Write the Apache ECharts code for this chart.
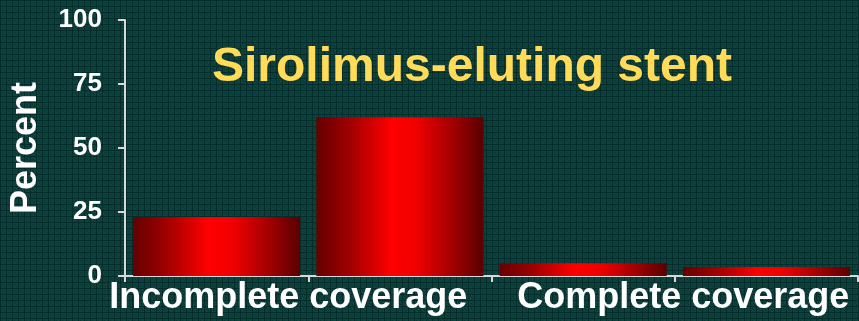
<!DOCTYPE html>
<html>
<head>
<meta charset="utf-8">
<script src="https://cdn.jsdelivr.net/npm/echarts@6/dist/echarts.min.js"></script>
<style>
html,body{margin:0;padding:0;background:#0a3834;}
#chart{width:859px;height:321px;}
</style>
</head>
<body>
<div id="chart"></div>
<script>
const categories = ['SES-1', 'SES-2', 'SES-3', 'SES-4'];
const groupLabels = ['Incomplete coverage', 'Complete coverage'];
const values = [23, 62, 5, 3.5];
const yTicks = [0, 25, 50, 75, 100];
const titleText = 'Sirolimus-eluting stent';
const yName = 'Percent';

// background texture
const pc = document.createElement('canvas');
pc.width = 6; pc.height = 6;
const g = pc.getContext('2d');
g.fillStyle = '#0b433f'; g.fillRect(0, 0, 6, 6);
g.fillStyle = '#042c2a';
g.fillRect(0, 0, 6, 1);
g.fillRect(0, 0, 1, 6);
g.fillStyle = '#073733';
g.fillRect(3, 3, 1, 1);
g.fillRect(2, 2, 1, 1);
g.fillRect(4, 4, 1, 1);

const chart = echarts.init(document.getElementById('chart'));
const barGrad = new echarts.graphic.LinearGradient(0, 0, 1, 0, [
  {offset: 0, color: '#650000'},
  {offset: 0.2, color: '#a00000'},
  {offset: 0.45, color: '#ff0000'},
  {offset: 0.6, color: '#f00000'},
  {offset: 0.85, color: '#950000'},
  {offset: 1, color: '#5a0000'}
]);
chart.setOption({
  backgroundColor: {image: pc, repeat: 'repeat'},
  animation: false,
  title: {
    text: titleText,
    left: 212, top: 44, padding: 0,
    textStyle: {color: '#ffdb58', fontSize: 48, fontWeight: 'bold', fontFamily: 'Liberation Sans, Arial, sans-serif', lineHeight: 48}
  },
  grid: {left: 125, right: 1, top: 20, bottom: 45, containLabel: false, outerBoundsMode: 'none'},
  xAxis: [{
    type: 'category', data: categories, position: 'bottom',
    axisLine: {lineStyle: {color: '#d8d8d8', width: 2}},
    axisTick: {show: true, length: 6, lineStyle: {color: '#d8d8d8', width: 2}},
    axisLabel: {show: false}
  }, {
    type: 'category', data: groupLabels, position: 'bottom',
    axisLine: {show: false}, axisTick: {show: false},
    axisLabel: {
      margin: 4, interval: 0, hideOverlap: false,
      formatter: function (v, i) { return i === 0 ? '{a|' + v + '}' : '{b|' + v + '}'; },
      rich: {
        a: {color: '#ffffff', fontSize: 36, fontWeight: 'bold', fontFamily: 'Liberation Sans, Arial, sans-serif', lineHeight: 36, padding: [0, 40, 0, 0]},
        b: {color: '#ffffff', fontSize: 36, fontWeight: 'bold', fontFamily: 'Liberation Sans, Arial, sans-serif', lineHeight: 36, padding: [0, 0, 0, 17]}
      }
    }
  }],
  yAxis: {
    type: 'value', min: yTicks[0], max: yTicks[yTicks.length - 1], interval: 25,
    name: yName, nameLocation: 'middle', nameGap: 81, nameRotate: 90, nameMoveOverlap: false,
    nameTextStyle: {color: '#ffffff', fontSize: 36, fontWeight: 'bold', fontFamily: 'Liberation Sans, Arial, sans-serif'},
    axisLine: {show: true, lineStyle: {color: '#d8d8d8', width: 2}},
    axisTick: {show: true, length: 7, lineStyle: {color: '#d8d8d8', width: 2}},
    splitLine: {show: false},
    axisLabel: {color: '#ffffff', fontSize: 26, fontWeight: 'bold', fontFamily: 'Liberation Sans, Arial, sans-serif', margin: 23}
  },
  series: [{
    type: 'bar', data: values, xAxisIndex: 0, barWidth: 167,
    itemStyle: {color: barGrad}
  }]
});
</script>
</body>
</html>
